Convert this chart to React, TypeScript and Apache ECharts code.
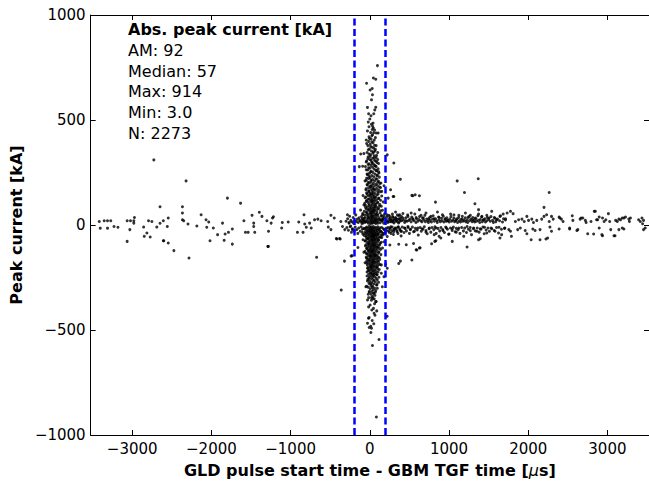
import React, { useEffect, useRef } from "react";
import * as echarts from "echarts";

const xTicks = [-3000, -2000, -1000, 0, 1000, 2000, 3000];
const xRange = [-3525, 3525];
const yRange = [-1000, 1000];
const yStep = 500;
const windowBounds = [-200, 200];
const statsTitle = "Abs. peak current [kA]";
const statsLines = ["AM: 92", "Median: 57", "Max: 914", "Min: 3.0", "N: 2273"];
const xName = "GLD pulse start time - GBM TGF time [{mu|\u03bc}s]";
const yName = "Peak current [kA]";

const bandLeft = [
[-3416,17],[-3404,-15],[-3354,20],[-3312,-15],[-3312,20],[-3271,20],[-3230,-7],[-3180,-11],[-3064,20],[-3064,-78],[-3030,-22],[-3022,20],[-2980,20],[-2972,36],[-2980,9],[-2856,-10],[-2848,-54],[-2815,-38],[-2794,20],[-2773,-57],[-2752,17],[-2690,-10],[-2649,87],[-2649,8],[-2607,20],[-2607,-75],[-2557,-7],[-2545,33],[-2545,-86],[-2474,-122],[-2366,87],[-2366,57],[-2366,25],[-2350,20],[-2296,5],[-2184,-5],[-2130,49],[-2068,25],[-2059,-11],[-2034,14],[-2018,-75],[-1976,-14],[-1922,-46],[-1860,9],[-1839,-73],[-1827,-43],[-1785,-35],[-1736,-19],[-1736,-91],[-1798,128],[-1632,104],[-1590,20],[-1570,-35],[-1536,-35],[-1487,46],[-1466,-7],[-1466,9],[-1453,-35],[-1395,61],[-1362,41],[-1300,20],[-1287,-102],[-1279,-30],[-1246,9],[-1229,33],[-1217,39],[-1113,-14],[-1105,12],[-1030,14],[-914,-35],[-897,14],[-831,49],[-843,-35],[-822,5],[-802,-11],[-760,9],[-740,-14],[-698,25],[-657,28],[-615,20],[-532,17],[-524,-10],[-491,-22],[-491,46],[-449,33],[-416,-67],[-374,-67],[-366,17],[-345,-7],[-316,-22],[-283,49],[-262,9],[-242,-5],[-221,-22],[-150,-107],[-117,71]
];

const leftOutliers = [
[-2727,310],[-2320,210],[-2283,-157],[-672,-154],[-2602,-75],[-1282,-102],[-361,-310],[-320,-172],[-236,-148],[-423,-64],[-382,-64],[-133,278],[-91,280],[-224,-146]
];

const nearLeft = [
[-300,18],[-290,-12],[-280,30],[-270,-25],[-262,12],[-255,42],[-248,-8],[-240,22],[-232,-35],[-225,15],[-218,-18],[-210,36],[-205,8],[-198,-28],[-192,20],[-185,-10],[-178,48],[-172,16],[-165,-22],[-158,28],[-152,-40],[-146,12],[-140,-14],[-135,34],[-128,22],[-122,-30],[-116,18],[-110,-8],[-105,40],[-100,14],[-95,-20],[-90,26],[-86,-44],[-82,10],[-78,-16],[-74,32],[-70,20]
];

const nearRight = [
[135,25],[140,-30],[145,45],[150,-12],[155,18],[162,-48],[168,30],[175,8],[182,-22],[188,55],[195,-35],[202,22],[208,-15],[214,38],[220,-55],[226,12],[234,-28],[240,46],[248,16],[256,-20],[262,32],[268,-40],[275,20],[282,-10],[288,40],[295,14],[302,-32],[310,24],[318,-14],[325,36],[332,18],[340,-26],[348,48],[355,-40],[362,10],[370,30],[378,-18],[386,22],[394,-30],[400,40]
];

const bandRightRead = [
[261,25],[294,36],[336,30],[377,49],[419,33],[452,20],[481,41],[522,57],[543,30],[585,36],[626,73],[647,46],[676,33],[709,57],[742,30],[771,41],[813,30],[854,62],[875,36],[917,49],[950,30],[979,20],[1020,52],[1062,33],[1091,25],[1124,46],[1166,30],[1207,57],[1240,36],[1269,46],[1298,25],[1332,33],[1373,52],[1415,41],[1435,25],[1477,46],[1506,33],[1539,65],[1572,36],[1601,25],[1643,41],[1684,52],[1714,30],
[253,-14],[302,-22],[356,-11],[398,-30],[439,-14],[481,-7],[510,-22],[564,-30],[605,-14],[659,-18],[709,-34],[751,-14],[813,-46],[834,-14],[875,-54],[925,-27],[967,-14],[1000,-43],[1041,-18],[1091,-34],[1124,-14],[1186,-54],[1228,-7],[1269,-27],[1311,-14],[1353,-30],[1394,-18],[1448,-11],[1477,-38],[1531,-14],[1581,-30],[1631,-11],[1664,-46],[1705,-14]
];

const bandRightFill = [
[160,22],[172,-18],[185,35],[190,-40],[198,12],[205,-25],[215,48],[222,18],[230,-12],[238,28],[245,-35],[252,40],[265,-8],[270,15],[278,-28],[285,52],[290,22],[298,-45],[305,10],[312,-20],[318,30],[325,62],[332,-15],[340,18],[345,-32],[352,26],[360,-8],[365,44],[372,14],[380,-24],[388,32],[395,-52],[402,20],[410,-10],[418,55],[425,24],[432,-36],[440,12],[446,-16],[455,34],[462,-28],[470,18],[478,48],[485,-12],[492,22],[500,-40],[508,28],[515,-20],[522,15],[530,38],[538,-10],[545,26],[552,-32],[560,20],[568,52],[575,-16],[582,12],[590,30],[598,-24],[606,18],[612,-48],[620,26],[628,40],[635,-12],[642,20],[650,-30],[658,15],[665,34],[672,-20],[680,24],[688,-8],[695,46],[702,16],[710,-26],[718,28],[725,-42],[732,20],[740,12],[748,-18],[755,36],[762,22],[770,-34],[778,14],[785,-12],[792,28],[800,44],[808,-22],[815,18],[822,-8],[830,30],[838,-40],[845,20],[852,12],[860,-16],[868,38],[875,24],[882,-28],[890,16],[898,-12],[905,32],[912,20],[920,-22],[928,42],[935,14],[942,-36],[950,26],[958,-10],[965,18],[972,34],[980,-20],[988,22],[995,-44],[1002,14],[1010,28],[1018,-14],[1025,40],[1032,18],[1040,-26],[1048,24],[1055,-10],[1062,48],[1070,16],[1078,-32],[1085,20],[1092,-16],[1100,30],[1108,12],[1115,-22],[1122,36],[1130,20],[1138,-40],[1145,14],[1152,26],[1160,-12],[1168,42],[1175,18],[1182,-28],[1190,22],[1198,-14],[1205,34],[1212,16],[1220,-36],[1228,24],[1236,12],[1244,-20],[1252,40],[1260,20],[1268,-12],[1276,28],[1284,-46],[1292,16],[1300,36],[1308,-18],[1316,22],[1324,14],[1332,-28],[1340,30],[1348,18],[1356,-14],[1364,44],[1372,22],[1380,-34],[1388,12],[1396,26],[1404,-20],[1412,38],[1420,16],[1428,-10],[1436,24],[1444,-42],[1452,30],[1460,14],[1468,-24],[1476,20],[1484,36],[1492,-14],[1500,26],[1510,-30],[1520,18],[1530,40],[1540,-18],[1550,22],[1560,12],[1570,-26],[1580,32],[1590,16],[1600,-12],[1612,28],[1625,-38],[1638,20],[1650,44],[1662,-20],[1675,14],[1688,30],[1700,-16],[1712,24]
];

const bandFar = [
[1734,57],[1776,65],[1809,54],[1838,17],[1879,25],[1921,28],[1950,17],[1983,41],[2004,22],[2045,28],[2066,12],[2108,22],[2170,28],[2199,41],[2232,49],[2265,17],[2294,41],[2315,28],[2390,38],[2419,28],[2440,17],[2556,44],[2564,22],[2655,28],[2689,33],[2722,22],[2834,65],[2863,25],[2896,38],[2938,33],[2958,17],[3012,54],[3029,17],[3104,22],[3145,28],[3187,33],[3228,38],[3270,28],[3278,17],[3394,25],[3415,17],[3436,33],[3456,22],
[1755,-22],[1776,-30],[1867,-22],[1900,-14],[1962,-26],[1983,-42],[2058,-19],[2087,-26],[2149,-22],[2274,-10],[2294,-30],[2390,-19],[2523,-14],[2626,-22],[2751,-42],[2896,-14],[2938,-51],[3042,-22],[3083,-51],[3145,-22],[3187,-14],[3456,-22],[3477,-14],
[2398,33],[2523,-19],[2614,-26],[2668,33],[2731,12],[2793,17],[2847,65],[2876,25],[2930,-46],[2980,25],[3096,-51],[3125,17],[3166,25],[3208,33],[3208,-19],[3291,33],[3444,6]
];

const rightOutliers = [
[1103,210],[1369,220],[1195,155],[829,109],[1327,101],[2265,155],[2199,84],[1228,-105],[780,-89],[821,-78],[2149,-70],[2224,-67],[1394,-65],[543,139],[626,139],[1373,73],[294,136],[232,128],[303,295],[386,218],[220,334],[179,187],[262,168],[303,136],[531,141],[573,144],[365,-183],[386,-172],[531,-167],[552,-88],[593,-119],[635,-108],[365,-92],[460,-94],[585,-118],[626,-110],[834,-75],[896,-62],[1041,-78],[1373,-70],[1643,-62],[1788,-54],[2037,-70],[2245,-62],[2826,-43]
];

const columnPos = [
[96,759],[75,694],[-41,675],[4,643],[33,620],[21,596],[75,561],[62,548],[-15,530],[0,505],[-20,490],[20,480],[35,470],[45,462],[30,455],[10,440],[50,440],[80,438],[105,438],[25,425],[-10,420],[15,410],[-45,405],[-15,398],[40,392],[5,385],[60,380],[-25,378],[30,370],[-5,362],[70,360],[20,352],[45,348],[-35,345],[100,345],[-75,340],[-115,338],[10,335],[55,330],[-20,325],[80,322],[35,318],[0,312],[60,308],[-40,305],[25,300],[90,298],[-10,292],[45,290],[15,284],[70,282],[-55,278],[35,275],[0,270],[55,266],[-25,262],[80,260],[20,256],[110,254],[40,250],[-5,246],[65,243],[-30,240],[25,236],[90,234],[50,230],[5,226],[-15,222],[75,220],[35,216],[-45,213],[60,210],[15,206],[100,204],[-5,200],[45,198],[80,195],[25,192],[-30,190],[60,187],[5,184],[120,182],[35,180],[-15,177],[85,175],[50,172],[15,170],[-50,168],[70,165],[30,162],[-10,160],[100,158],[45,155],[0,152],[65,150],[-35,148],[20,146],[90,143],[40,141],[-20,139],[55,137],[10,134],[75,132],[-60,130],[30,128],[110,126],[-5,124],[50,122],[85,120],[20,118],[-40,116],[65,114],[5,112],[40,110],[-25,108],[95,106],[25,104],[60,102],[-10,100],[75,98],[35,96],[-55,94],[10,92],[120,90],[50,88],[-30,86],[85,85],[20,83],[60,81],[0,80],[40,78],[-45,76],[100,75],[15,73],[70,71],[-15,70],[30,68],[55,66],[-70,65],[90,63],[5,62],[45,60],[-35,58],[130,57],[25,55],[75,53],[-5,52],[60,50],[-90,49],[15,47],[100,46],[35,44],[-25,43],[80,41],[50,40],[0,38],[-60,36],[115,35],[30,34],[65,32],[-15,31],[90,29],[10,28],[45,27],[-40,25],[140,24],[20,23],[70,22],[-80,21],[55,20],[-5,19],[105,18],[35,17],[-30,16],[85,15],[15,14],[-60,13],[60,12],[130,11],[40,10],[-20,9],[100,8],[25,8],[-100,7],[75,7],[5,6],
[-90,55],[160,70],[170,110],[-85,140],[150,160],[-75,95],[175,45],[-95,30],[165,30],[140,200],[-60,210]
];

const columnPosMore = [
[-50,15],[120,26],[-25,35],[150,42],[-65,48],[95,52],[-45,62],[135,68],[-20,74],[110,79],[-55,84],[145,89],[-10,93],[125,98],[-65,103],[100,108],[-45,113],[135,118],[-20,123],[115,128],[-50,133],[150,138],[0,143],[105,148],[-40,153],[130,158],[-15,163],[110,168],[-45,173],[135,178],[10,183],[95,188],[-35,193],[125,198],[-20,203],[110,208],[15,213],[90,218],[-40,223],[120,228],[-10,233],[95,238],[-35,243],[115,248],[10,253],[85,258],[-45,263],[105,268],[-15,273],[80,278],[60,283],[-20,288],[110,293],[30,296],[-45,300],[75,304],[15,308],[100,312],[-25,316],[55,320],[5,326],[85,332],[-10,338],[40,342],[65,352],[-20,358],[50,366],[10,374],[80,378],[-40,388],[25,396],[55,404],[-5,412],[70,416],[35,430],[-30,448],[60,452],[-10,468],[40,485],[15,520],[50,530],[-30,560],[30,650],[45,700],[50,170],[25,150],[60,130],[30,115],[70,90],[20,60],[50,70],[25,40],[80,25],[-35,50]
];

const columnNeg = [
[-8,-6],[45,-7],[100,-8],[20,-9],[-40,-10],[70,-11],[5,-12],[125,-13],[35,-14],[-20,-15],[85,-16],[55,-17],[-65,-18],[15,-19],[110,-20],[40,-21],[-5,-22],[75,-23],[25,-24],[-35,-25],[95,-26],[50,-27],[0,-28],[130,-29],[30,-30],[-55,-31],[65,-32],[10,-33],[90,-34],[-15,-35],[45,-36],[115,-37],[20,-38],[-40,-39],[70,-40],[35,-41],[-5,-42],[100,-43],[55,-44],[-25,-45],[80,-46],[15,-47],[140,-48],[40,-49],[-70,-50],[60,-51],[25,-52],[-10,-53],[90,-54],[45,-55],[5,-56],[120,-57],[30,-58],[-45,-59],[75,-60],[50,-62],[-20,-63],[100,-64],[15,-65],[65,-67],[-35,-68],[35,-69],[85,-70],[0,-72],[55,-73],[110,-74],[-55,-75],[25,-76],[70,-78],[-10,-79],[45,-80],[95,-82],[10,-83],[-30,-84],[60,-86],[130,-87],[30,-88],[-15,-90],[80,-91],[40,-92],[-50,-94],[5,-95],[105,-96],[50,-98],[20,-99],[-25,-100],[70,-102],[35,-103],[90,-105],[-5,-106],[55,-108],[120,-109],[15,-110],[-40,-112],[75,-113],[40,-115],[0,-116],[95,-118],[25,-119],[-20,-121],[60,-122],[45,-124],[-60,-125],[10,-127],[80,-128],[30,-130],[110,-131],[-10,-133],[55,-134],[20,-136],[-35,-137],[70,-139],[40,-140],[95,-142],[5,-143],[60,-145],[-20,-146],[30,-148],[85,-150],[15,-151],[-45,-153],[50,-154],[120,-156],[0,-157],[70,-159],[35,-160],[-25,-162],[90,-163],[20,-165],[55,-167],[-5,-168],[100,-170],[40,-171],[-40,-173],[75,-175],[10,-176],[60,-178],[30,-180],[-15,-182],[85,-183],[45,-185],[5,-187],[110,-188],[25,-190],[-30,-192],[65,-193],[40,-195],[90,-197],[0,-199],[55,-200],[20,-202],[-20,-204],[75,-206],[35,-208],[100,-210],[10,-212],[60,-214],[-10,-216],[45,-218],[25,-220],[80,-222],[-35,-224],[50,-226],[5,-228],[70,-231],[30,-233],[-15,-235],[90,-237],[45,-240],[15,-242],[60,-245],[-5,-247],[35,-250],[80,-253],[20,-256],[-25,-259],[55,-262],[40,-265],[0,-268],[70,-271],[25,-275],[-10,-278],[50,-281],[90,-284],[15,-288],[35,-292],[-20,-296],[60,-300],[5,-304],[45,-308],[75,-312],[25,-316],[-5,-320],[50,-325],[15,-330],[65,-335],[35,-340],[-15,-346],[55,-352],[20,-358],[80,-364],
[150,-60],[-85,-70],[170,-40],[-95,-35],[160,-110],[-75,-130],[145,-190],[-60,-180],[180,-80]
];

const columnNegMore = [
[-50,-15],[120,-20],[-30,-30],[150,-35],[-60,-40],[105,-45],[-45,-52],[135,-58],[-25,-64],[110,-70],[-60,-76],[145,-82],[-15,-88],[125,-94],[-55,-100],[100,-106],[-35,-111],[135,-117],[-15,-123],[115,-129],[-45,-135],[140,-141],[0,-147],[105,-153],[-40,-158],[125,-164],[-15,-170],[110,-176],[-40,-182],[130,-188],[10,-194],[95,-200],[-30,-206],[120,-212],[-20,-218],[105,-224],[15,-230],[90,-236],[-35,-243],[115,-249],[-10,-255],[95,-261],[-30,-267],[110,-273],[10,-280],[85,-286],[-40,-292],[30,-298],[70,-320],[-20,-330],[40,-350],[60,-375],[-15,-390],[25,-405],[65,-430],[30,-455],[50,-470],[50,-50],[30,-70],[60,-95],[25,-125],[70,-145],[40,-175],[15,-205],[50,-235]
];

const columnTail = [
[-29,-357],[21,-346],[46,-325],[-8,-317],[-50,-294],[95,-301],[158,-294],[179,-246],[145,-230],[220,-206],[199,-187],[253,-95],[75,-365],[4,-381],[46,-397],[87,-409],[54,-420],[-17,-444],[-29,-468],[-8,-488],[21,-492],[13,-512],[-9,-441],[12,-482],[219,-435],[116,-545],[33,-574],[83,-914]
];

const FONT = "DejaVu Sans";

function fmt(v: number) {
  return v < 0 ? "\u2212" + Math.abs(v) : String(v);
}

export default function App() {
  const ref = useRef<HTMLDivElement>(null);
  useEffect(() => {
    if (!ref.current) return;
    const chart = echarts.init(ref.current, null, { renderer: "svg" });
    const points = [
      ...bandLeft, ...leftOutliers, ...nearLeft, ...nearRight,
      ...bandRightRead, ...bandRightFill, ...bandFar, ...rightOutliers,
      ...columnPos, ...columnPosMore, ...columnNeg, ...columnNegMore, ...columnTail,
    ];
    const axisLine = { show: true, onZero: false, lineStyle: { color: "#000", width: 1 } };
    const tick = { show: true, inside: true, length: 5, lineStyle: { color: "#000", width: 1 } };
    const statsY0 = 31.5;
    const statsGap = 20.8;
    chart.setOption({
      animation: false,
      textStyle: { fontFamily: FONT },
      grid: { left: 88, top: 15, width: 566, height: 420.5, containLabel: false },
      xAxis: [
        {
          type: "value", min: xRange[0], max: xRange[1], position: "bottom",
          axisLine, splitLine: { show: false },
          axisTick: { ...tick, customValues: xTicks },
          axisLabel: { customValues: xTicks, formatter: fmt, color: "#000", fontSize: 15, margin: 6, fontFamily: FONT },
          name: xName, nameLocation: "middle", nameGap: 27,
          nameTextStyle: {
            fontSize: 16, fontWeight: "bold", color: "#000", fontFamily: FONT,
            rich: { mu: { fontSize: 16, fontStyle: "italic", fontWeight: "normal", color: "#000", fontFamily: FONT } },
          },
        },
        {
          type: "value", min: xRange[0], max: xRange[1], position: "top",
          axisLine, splitLine: { show: false },
          axisTick: { ...tick, customValues: xTicks },
          axisLabel: { show: false, customValues: xTicks },
        },
      ],
      yAxis: [
        {
          type: "value", min: yRange[0], max: yRange[1], interval: yStep, position: "left",
          axisLine, splitLine: { show: false }, axisTick: tick,
          axisLabel: { formatter: fmt, color: "#000", fontSize: 15, margin: 5, fontFamily: FONT },
          name: yName, nameLocation: "middle", nameGap: 64, nameRotate: 90,
          nameTextStyle: { fontSize: 16, fontWeight: "bold", color: "#000", fontFamily: FONT },
        },
        {
          type: "value", min: yRange[0], max: yRange[1], interval: yStep, position: "right",
          axisLine, splitLine: { show: false }, axisTick: tick, axisLabel: { show: false },
        },
      ],
      series: [
        {
          type: "scatter", xAxisIndex: 0, yAxisIndex: 0, data: points,
          symbol: "circle", symbolSize: 3, itemStyle: { color: "#000" },
          silent: true, z: 2,
        },
        {
          type: "scatter", xAxisIndex: 0, yAxisIndex: 0, data: [], z: 5,
          markLine: {
            silent: true, symbol: ["none", "none"], label: { show: false },
            lineStyle: { color: "#0000ff", width: 2.5, type: [7, 3.5] },
            data: windowBounds.map((v) => ({ xAxis: v })),
          },
        },
      ],
      graphic: [
        {
          type: "text", left: 128, top: statsY0 - 10, z: 10,
          style: { text: statsTitle, font: `bold 16px "${FONT}"`, fill: "#000" },
        },
        ...statsLines.map((t, i) => ({
          type: "text", left: 128, top: statsY0 + statsGap * (i + 1) - 10, z: 10,
          style: { text: t, font: `16px "${FONT}"`, fill: "#000" },
        })),
      ],
    });
    return () => chart.dispose();
  }, []);
  return (
    <div
      ref={ref}
      style={{ position: "fixed", left: 0, top: 0, width: 649, height: 483, background: "#fff" }}
    />
  );
}
